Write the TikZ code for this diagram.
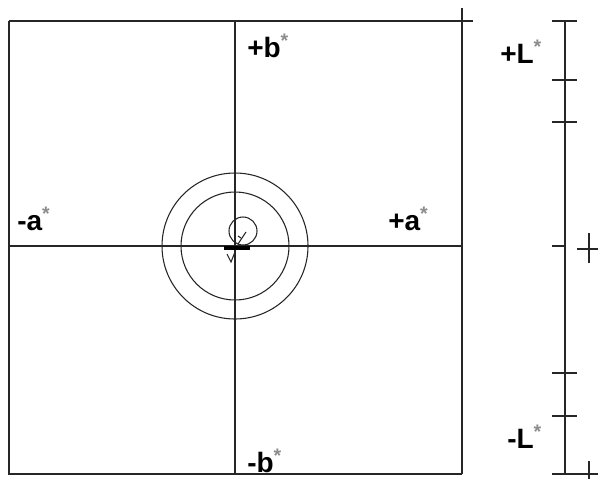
\documentclass[tikz,border=0pt]{standalone}
\usepackage{fontspec}
\setmainfont{Liberation Sans}
\begin{document}
\begin{tikzpicture}[x=0.75pt,y=-0.75pt,
  ln/.style={line width=1.1pt,black!85},
  thin/.style={line width=0.8pt,black!85},
  lab/.style={font=\bfseries\fontsize{21}{23}\selectfont,inner sep=0pt,anchor=west}]
\useasboundingbox[fill=white] (0,0) rectangle (598,479);
% main square
\draw[ln] (9,21) -- (473,21);
\draw[ln] (9,21) -- (9,474) -- (462,474);
\draw[ln] (462,8) -- (462,474);
% axes
\draw[ln] (235,21) -- (235,474);
\draw[ln] (9,246) -- (462,246);
% circles
\draw[thin] (235,246) circle (73);
\draw[thin] (235,246) circle (54);
\draw[thin] (243,231) circle (14);
% small vector marks
\draw[line width=2.4pt] (224,248) -- (250,248);
\draw[thin] (238,244) -- (246,232);
\draw[thin] (241,238) -- (238,236);
\draw[thin] (227,254) -- (231,262) -- (235,252);
% L scale
\draw[ln] (565,21) -- (565,474);
\foreach \yy in {21,80,122,373,416} \draw[ln] (552,\yy) -- (577,\yy);
\draw[ln] (552,474) -- (598,474);
\draw[ln] (552,246) -- (565,246);
\draw[ln] (577,249) -- (598,249);
\draw[ln] (589,233) -- (589,263);
\draw[ln] (589,461) -- (589,479);
% labels
\node[lab] (bp) at (247,46) {+b\textsuperscript{\color{black!45}*}};
\node[lab] (bm) at (247,461) {-b\textsuperscript{\color{black!45}*}};
\node[lab] (am) at (17,219) {-a\textsuperscript{\color{black!45}*}};
\node[lab] (ap) at (388,219) {+a\textsuperscript{\color{black!45}*}};
\node[lab] (lp) at (500,52) {+L\textsuperscript{\color{black!45}*}};
\node[lab] (lm) at (507,437) {-L\textsuperscript{\color{black!45}*}};
\end{tikzpicture}
\end{document}
